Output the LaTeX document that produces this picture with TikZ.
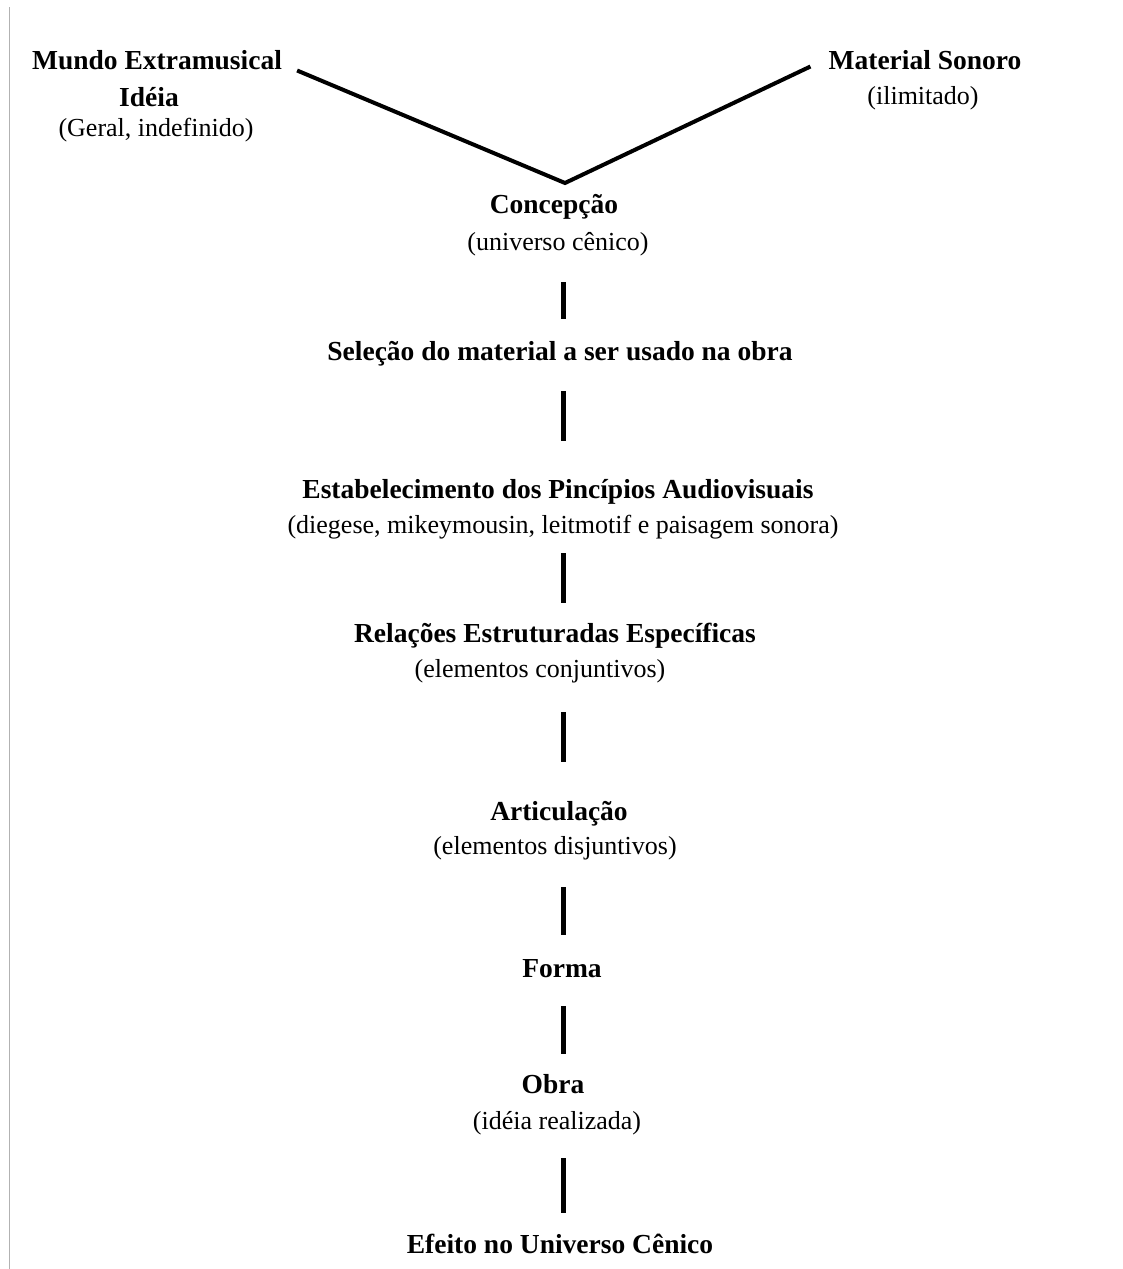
\documentclass[tikz,border=0pt]{standalone}
\usepackage{fontspec}
\setmainfont{Liberation Serif}
\usetikzlibrary{positioning}

\begin{document}
\begin{tikzpicture}[x=1pt,y=-1pt,
        every node/.style={inner sep=0pt,anchor=base,text height=20pt,text depth=7pt,
                           font=\fontsize{26pt}{31pt}\selectfont},
        titulo/.style={font=\fontsize{27.5pt}{33pt}\selectfont\bfseries},
        vline/.style={line width=4pt},
        bar/.style={line width=5pt}]
            \useasboundingbox (0,0) rectangle (1122,1269);
            \draw[gray!60,line width=1pt] (9.5,7) -- (9.5,1269);

            % topo
            \node[titulo] (mundo)    at (157,69)  {Mundo Extramusical};
            \node[titulo] (ideia)    at (149,106) {Idéia};
            \node         (geral)    at (156,136) {(Geral, indefinido)};
            \node[titulo] (material) at (925,69)  {Material Sonoro};
            \node         (ilimit)   at (923,104) {(ilimitado)};
            \coordinate   (vertice)  at (565,183);
            \coordinate   (eixo)     at (563,0);

            % coluna
            \node[titulo] (concepcao) at (554,213)  {Concepção};
            \node         (universo)  at (558,250)  {(universo cênico)};
            \node[titulo] (selecao)   at (560,360)  {Seleção do material a ser usado na obra};
            \node[titulo] (estab)     at (558,498)  {Estabelecimento dos Pincípios Audiovisuais};
            \node         (diegese)   at (563,533)  {(diegese, mikeymousin, leitmotif e paisagem sonora)};
            \node[titulo] (relacoes)  at (555,642)  {Relações Estruturadas Específicas};
            \node         (conjunt)   at (540,677)  {(elementos conjuntivos)};
            \node[titulo] (artic)     at (559,820)  {Articulação};
            \node         (disjunt)   at (555,854)  {(elementos disjuntivos)};
            \node[titulo] (forma)     at (562,977)  {Forma};
            \node[titulo] (obra)      at (553,1093) {Obra};
            \node         (realizada) at (557,1129) {(idéia realizada)};
            \node[titulo] (efeito)    at (560,1253) {Efeito no Universo Cênico};

            \draw[vline] ([shift={(15,8)}]mundo.east) -- (vertice) -- ([shift={(-18,4)}]material.west);

            \path[bar]
                (eixo |- universo.south) edge [shorten <=25pt, shorten >=21pt] (eixo |- selecao.north)
                (eixo |- selecao.south)  edge [shorten <=24pt, shorten >=37pt] (eixo |- estab.north)
                (eixo |- diegese.south)  edge [shorten <=13pt, shorten >=19pt] (eixo |- relacoes.north)
                (eixo |- conjunt.south)  edge [shorten <=28pt, shorten >=38pt] (eixo |- artic.north)
                (eixo |- disjunt.south)  edge [shorten <=26pt, shorten >=22pt] (eixo |- forma.north)
                (eixo |- forma.south)    edge [shorten <=22pt, shorten >=19pt] (eixo |- obra.north)
                (eixo |- realizada.south) edge [shorten <=22pt, shorten >=20pt] (eixo |- efeito.north)
                ;
        \end{tikzpicture}
\end{document}
